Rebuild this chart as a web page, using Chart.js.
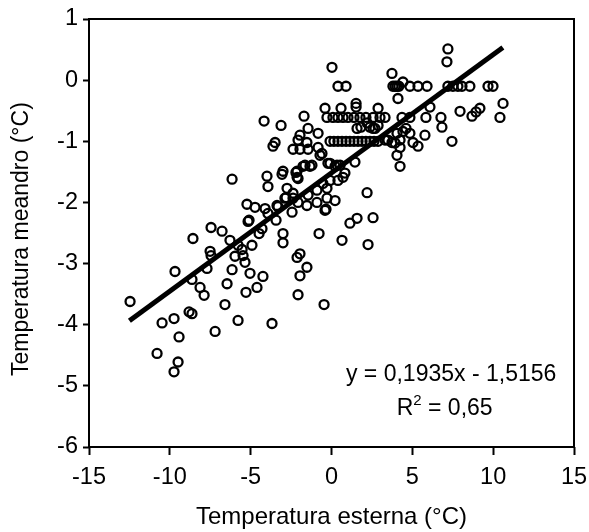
<!DOCTYPE html>
<html>
<head>
<meta charset="utf-8">
<script src="https://cdn.jsdelivr.net/npm/chart.js@4.4.1/dist/chart.umd.min.js"></script>
<style>
html,body{margin:0;padding:0;background:#fff;}
#wrap{width:589px;height:532px;}
</style>
</head>
<body>
<div id="wrap"><canvas id="c" width="589" height="532"></canvas></div>
<script>
// Observed temperatures (°C)
const tempEsterna = [
-12.46,-9.68,-8.57,-7.45,-6.77,-6.28,-5.23,-5.16,-7.51,-7.45,-7.70,-8.63,-8.13,-7.88,-6.46,-6.59,-6.15,-5.97,-5.53,-5.35,-5.29,-5.78,-7.20,-8.81,-8.63,-9.74,-10.48,-9.43,-10.79,-9.49,-9.74,-5.78,
-4.17,-3.12,-1.70,-0.40,0.59,1.52,-3.49,-3.62,-2.38,-1.95,-1.45,-1.95,-1.45,-0.83,-1.52,-2.07,-0.83,-0.59,
-6.15,-3.99,-3.93,-3.00,-3.06,-2.13,-2.07,-1.64,-1.21,-0.22,0.34,1.45,0.83,0.40,-0.09,-0.28,-0.90,-1.45,-2.07,-1.52,-0.90,-2.75,-2.81,
2.20,0.22,-0.34,1.58,1.14,2.57,0.65,2.26,-0.77,-2.44,-3.31,-4.11,-3.93,-4.73,-5.10,-3.43,-4.30,-4.48,-3.00,-3.00,-2.13,-1.95,-1.52,-1.95,
-4.24,-5.04,-5.47,-4.92,-4.61,-2.07,-0.46,-3.68,-2.88,-2.38,-0.28,-0.40,-3.37,-2.20,-1.76,-1.33,-2.13,-2.38,-0.53,0.71,-0.09,0.22,0.53,-0.71,
0.03,0.40,0.90,1.52,2.88,
-0.28,0.09,0.40,0.71,1.02,1.39,1.76,2.13,2.57,
-0.09,0.15,0.40,0.65,0.90,1.14,1.39,1.64,1.89,2.13,2.38,2.63,2.88,
1.58,1.82,2.20,2.38,2.57,3.49,3.74,3.93,3.31,4.24,
3.74,7.20,7.14,3.80,3.93,4.05,4.17,4.42,4.85,5.35,5.91,7.20,7.51,7.82,8.07,8.56,9.68,9.99,
4.11,6.09,7.95,8.69,8.94,9.18,10.61,10.42,5.84,6.77,6.83,7.45,5.78,5.35,5.04,4.85,4.61,4.42,4.36,4.85,3.00,3.31,2.69,2.88,4.05,4.24,4.24,4.05
];
const tempMeandro = [
-3.62,-3.13,-2.59,-2.41,-2.47,-2.62,-2.03,-2.31,-2.80,-2.87,-3.08,-3.26,-3.39,-3.52,-3.33,-3.67,-3.10,-2.88,-2.77,-2.98,-3.47,-3.93,-4.11,-3.79,-3.82,-3.90,-3.97,-4.20,-4.47,-4.61,-4.77,-2.70,
-0.67,-0.74,-0.59,-0.46,-0.46,-0.38,-1.02,-1.08,-1.13,-1.13,-1.13,-0.90,-0.79,-0.87,-1.02,-0.98,-1.10,-1.20,
-1.62,-1.57,-1.74,-1.49,-1.54,-1.49,-1.61,-1.39,-1.39,-1.36,-1.39,-1.34,-1.52,-1.64,-1.64,-1.77,-1.80,-1.88,-2.00,-2.05,-2.00,-1.77,-1.92,
-1.84,-1.97,-2.11,-2.26,-2.34,-2.25,-2.62,-2.69,-2.51,-2.16,-2.07,-2.10,-2.18,-2.08,-2.29,-2.29,-2.43,-2.51,-2.51,-2.66,-2.90,-2.84,-3.06,-3.20,
-3.21,-3.16,-2.87,-2.70,-3.39,-3.51,-3.67,-3.98,-1.93,-1.93,-1.93,-2.13,-2.05,-1.51,-1.41,-1.41,-1.59,-1.85,-1.69,-1.59,-1.36,-1.41,-1.39,-1.23,
0.21,-0.10,-0.10,-0.44,-0.46,
-0.61,-0.61,-0.61,-0.61,-0.61,-0.61,-0.61,-0.61,-0.61,
-1.00,-1.00,-1.00,-1.00,-1.00,-1.00,-1.00,-1.00,-1.00,-1.00,-1.00,-1.00,-1.00,
-0.79,-0.77,-0.70,-0.77,-0.79,-0.98,-1.02,-1.03,-0.98,-0.98,
0.11,0.51,0.30,-0.10,-0.10,-0.10,-0.10,-0.03,-0.10,-0.10,-0.10,-0.10,-0.10,-0.10,-0.10,-0.10,-0.10,-0.10,
-0.30,-0.44,-0.51,-0.59,-0.52,-0.46,-0.38,-0.61,-0.61,-0.61,-0.77,-1.00,-0.90,-1.08,-1.02,-0.87,-0.79,-0.84,-0.61,-0.61,-0.61,-0.61,-0.79,-0.74,-1.23,-1.41,-1.10,-0.87
];
// Trend line as printed on the chart
const slope = 0.1935, intercept = -1.5156;
const lineXs = [-12.5, 10.6];
const xTicks = [-15,-10,-5,0,5,10,15];
const yTicks = [-6,-5,-4,-3,-2,-1,0,1];
const eqLabel = 'y = 0,1935x - 1,5156';
const r2Base = 'R', r2Sup = '2', r2Rest = ' = 0,65';
const yTitle = 'Temperatura meandro (°C)';
const xTitle = 'Temperatura esterna (°C)';

const pts = tempEsterna.map((x,i)=>({x:x,y:tempMeandro[i]}));
const linePts = lineXs.map(x=>({x:x,y:slope*x+intercept}));

const FONT = "'Liberation Sans', Arial, sans-serif";

const framePlugin = {
  id:'frame',
  afterDraw(chart){
    const {ctx, chartArea:a, scales} = chart;
    ctx.save();
    ctx.strokeStyle='#000';
    ctx.lineWidth=2;
    ctx.strokeRect(a.left, a.top, a.right-a.left, a.bottom-a.top);
    ctx.fillStyle='#000';
    ctx.textBaseline='middle';
    const xs = scales.x, ys = scales.y;
    ctx.font = "23px " + FONT;
    ctx.textAlign='center';
    ctx.fillText(eqLabel, xs.getPixelForValue(7.4), ys.getPixelForValue(-4.82));
    // R² with superscript
    const big = "23px " + FONT, small = "15px " + FONT;
    ctx.font = big; const wR = ctx.measureText(r2Base).width; const wRest = ctx.measureText(r2Rest).width;
    ctx.font = small; const wS = ctx.measureText(r2Sup).width;
    const total = wR + wS + wRest;
    const cx = xs.getPixelForValue(7.0), cy = ys.getPixelForValue(-5.38);
    let x0 = cx - total/2;
    ctx.textAlign='left';
    ctx.font = big; ctx.fillText(r2Base, x0, cy);
    ctx.font = small; ctx.fillText(r2Sup, x0 + wR, cy - 8);
    ctx.font = big; ctx.fillText(r2Rest, x0 + wR + wS, cy);
    // Y axis title (rotated)
    ctx.translate(22, ys.getPixelForValue(-2.6));
    ctx.rotate(-Math.PI/2);
    ctx.textAlign='center';
    ctx.font = "23px " + FONT;
    ctx.fillText(yTitle, 0, 0);
    ctx.restore();
  }
};

new Chart(document.getElementById('c'), {
  type:'scatter',
  data:{
    datasets:[
      {
        type:'line',
        data:linePts,
        borderColor:'#000',
        borderWidth:5,
        pointRadius:0,
        fill:false,
        order:0
      },
      {
        data:pts,
        pointRadius:4.5,
        pointHoverRadius:4.5,
        pointBorderWidth:2.3,
        pointBorderColor:'#000',
        pointBackgroundColor:'rgba(255,255,255,0)',
        order:1
      }
    ]
  },
  options:{
    responsive:false,
    animation:false,
    devicePixelRatio:1,
    layout:{padding:{left:0,right:15,top:19,bottom:0}},
    plugins:{legend:{display:false},tooltip:{enabled:false}},
    scales:{
      x:{
        type:'linear', min:-15, max:15,
        afterBuildTicks(s){ s.ticks = xTicks.map(v=>({value:v})); },
        afterFit(s){ s.height = 85; s.paddingRight = 0; s.paddingLeft = 0; },
        border:{display:false},
        grid:{drawOnChartArea:false, drawTicks:true, tickLength:8, tickWidth:2, tickColor:'#000'},
        ticks:{color:'#000', font:{family:FONT,size:23.5}, padding:8, maxRotation:0,
               callback:v=>String(v)},
        title:{display:true, text:xTitle, color:'#000',
               font:{family:FONT,size:24}, padding:{top:0,bottom:0}}
      },
      y:{
        type:'linear', min:-6, max:1,
        afterBuildTicks(s){ s.ticks = yTicks.map(v=>({value:v})); },
        afterFit(s){ s.width = 89; s.paddingTop = 0; s.paddingBottom = 0; },
        border:{display:false},
        grid:{drawOnChartArea:false, drawTicks:true, tickLength:6, tickWidth:2, tickColor:'#000'},
        ticks:{color:'#000', font:{family:FONT,size:23.5}, padding:5,
               callback:v=>String(v)},
        title:{display:false}
      }
    }
  },
  plugins:[framePlugin]
});
</script>
</body>
</html>
